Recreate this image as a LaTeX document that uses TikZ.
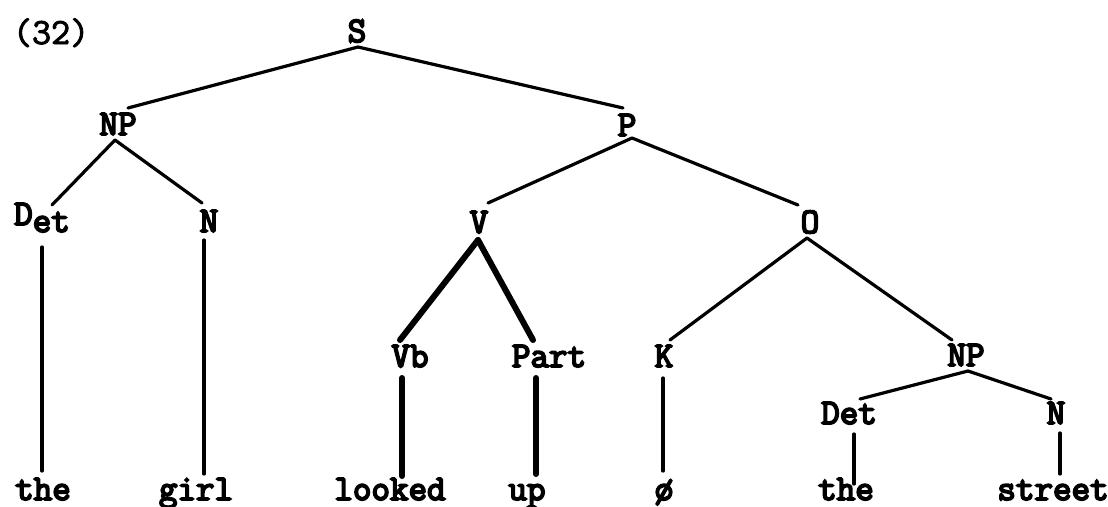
\documentclass[tikz,border=0pt]{standalone}
\usepackage{fontspec}
\newfontfamily\tw{Latin Modern Mono}[FakeBold=5]
\newfontfamily\twlight{Latin Modern Mono}[FakeBold=2.5]
\begin{document}
\begin{tikzpicture}[x=1pt,y=-1pt,
  lbl/.style={anchor=base, inner sep=0pt, outer sep=0pt, text height=22pt, text depth=0pt,
              font=\tw\fontsize{36}{36}\selectfont},
  edge/.style={line width=3.2pt, line cap=round},
  heavy/.style={line width=6pt, line cap=round}]
\useasboundingbox[fill=white] (0,0) rectangle (1108,506);

% example number
\node[lbl, anchor=base west, font=\twlight\fontsize{37}{37}\selectfont] (num) at (13,44) {(32)};

% categories
\node[lbl] (S)    at (357,42)  {S};
\node[lbl] (NP)   at (118,135) {NP};
\node[lbl] (P)    at (627,136) {P};
\node[lbl] (Det)  at (42,225)  {D\raisebox{-7pt}{et}};
\node[lbl] (N)    at (209,232) {N};
\node[lbl] (V)    at (479,233) {V};
\node[lbl] (O)    at (810,233) {O};
\node[lbl] (Vb)   at (410,367) {Vb};
\node[lbl] (Part) at (549,367) {Part};
\node[lbl] (K)    at (664,367) {K};
\node[lbl] (NPb)  at (966,366) {NP};
\node[lbl] (Detb) at (849,424) {Det};
\node[lbl] (Nb)   at (1056,424) {N};

% words
\node[lbl] (w1) at (43,500)   {the};
\node[lbl] (w2) at (196,500)  {girl};
\node[lbl] (w3) at (390,500)  {looked};
\node[lbl] (w4) at (527,500)  {up};
\node[lbl] (w5) at (664,500)  {ø};
\node[lbl] (w6) at (846,500)  {the};
\node[lbl] (w7) at (1053,500) {street};

% branches
\draw[edge] ([shift={(1,5)}]S.south) -- ([shift={(10,-5)}]NP.north);
\draw[edge] ([shift={(1,5)}]S.south) -- ([shift={(-4,-6)}]P.north);
\draw[edge] ([shift={(-3,5)}]NP.south) -- ([shift={(10,2)}]Det.north);
\draw[edge] ([shift={(-3,5)}]NP.south) -- ([shift={(-7,-7)}]N.north);
\draw[edge] ([shift={(5,2)}]P.south) -- ([shift={(9,-8)}]V.north);
\draw[edge] ([shift={(5,2)}]P.south) -- ([shift={(-12,-6)}]O.north);
\draw[heavy] ([shift={(-1,7)}]V.south) -- ([shift={(-10,-5)}]Vb.north);
\draw[heavy] ([shift={(-1,7)}]V.south) -- ([shift={(-16,-5)}]Part.north);
\draw[edge] ([shift={(-3,5)}]O.south) -- ([shift={(6,-5)}]K.north);
\draw[edge] ([shift={(-3,5)}]O.south) -- ([shift={(-14,-4)}]NPb.north);
\draw[edge] ([shift={(2,5)}]NPb.south) -- ([shift={(11,-3)}]Detb.north);
\draw[edge] ([shift={(2,5)}]NPb.south) -- ([shift={(-5,-3)}]Nb.north);

% lexical stems
\draw[edge]  ([shift={(0,22)}]Det.south) -- ([shift={(-1,-7)}]w1.north);
\draw[edge]  ([shift={(-5,8)}]N.south) -- ([shift={(8,-4)}]w2.north);
\draw[heavy] ([shift={(-8,11)}]Vb.south) -- ([shift={(12,-2)}]w3.north);
\draw[heavy] ([shift={(-13,11)}]Part.south) -- ([shift={(9,-4)}]w4.north);
\draw[edge]  ([shift={(-1,11)}]K.south) -- ([shift={(-1,-7)}]w5.north);
\draw[edge]  ([shift={(5,10)}]Detb.south) -- ([shift={(8,6)}]w6.north);
\draw[edge]  ([shift={(4,9)}]Nb.south) -- ([shift={(7,-4)}]w7.north);
\end{tikzpicture}
\end{document}
